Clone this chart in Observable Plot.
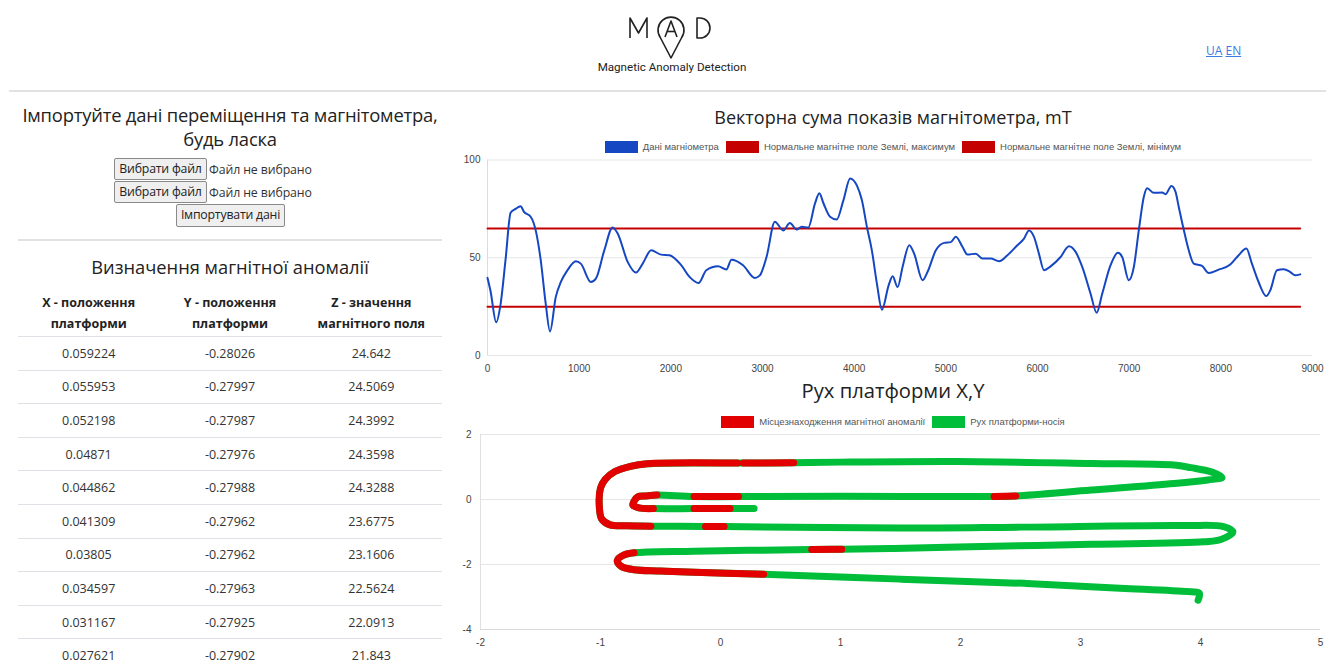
<!DOCTYPE html>
<html><head><meta charset="utf-8">
<script src="https://cdn.jsdelivr.net/npm/d3@7"></script>
<script src="https://cdn.jsdelivr.net/npm/@observablehq/plot@0.6"></script>
<style>
html,body{margin:0;padding:0;background:#fff;}
body{width:1333px;height:662px;overflow:hidden;position:relative;font-family:"Open Sans","Noto Sans",sans-serif;color:#333;}
.abs{position:absolute;}
.hr{position:absolute;height:0;border-top:2px solid #e2e2e2;}
.btn{position:absolute;box-sizing:border-box;border:1px solid #8a8a8a;background:#efefef;font-size:12.3px;letter-spacing:-0.2px;line-height:20px;text-align:center;color:#222;border-radius:2px;white-space:nowrap;}
.ftxt{position:absolute;font-size:12.3px;letter-spacing:-0.1px;color:#333;line-height:20px;white-space:nowrap;}
.h4{position:absolute;text-align:center;color:#222;}
table{border-collapse:collapse;width:424px;}
th{font-size:12.5px;font-weight:700;color:#222;line-height:21px;height:47px;padding:0;border-bottom:1px solid #dee2e6;vertical-align:middle;width:33.3%;}
td{font-size:12.5px;color:#333;height:32.6px;padding:0;text-align:center;border-bottom:1px solid #dee2e6;}
.title{position:absolute;left:460px;width:866px;text-align:center;color:#222;white-space:nowrap;}
.legend{position:absolute;left:460px;width:866px;display:flex;justify-content:center;align-items:center;font-family:Arial,"Liberation Sans",sans-serif;font-size:9.5px;color:#555;}
.legend .sw{display:inline-block;width:33px;height:12px;margin-right:5px;}
.legend .it{display:flex;align-items:center;margin:0 3.5px;}
.chart{position:absolute;}
</style></head>
<body>
<!-- header logo -->
<svg class="abs" style="left:0;top:0" width="1333" height="90">
  <g fill="none" stroke="#222" stroke-width="1.6" stroke-linejoin="round">
    <polyline points="630,38 630,18 638.5,33 647,18 647,38"/>
    <path d="M671 58 L660.3 37.5 A13 13 0 1 1 681.7 37.5 Z"/>
    <polyline points="665,37 671,21 677,37"/>
    <line x1="667.2" y1="31.5" x2="674.8" y2="31.5"/>
    <path d="M697 18 L700 18 A10 10 0 0 1 700 38 L697 38 Z"/>
  </g>
  <text x="672" y="70.5" text-anchor="middle" font-family="Roboto" font-size="11.6" fill="#222">Magnetic Anomaly Detection</text>
</svg>
<div class="abs" style="left:1206px;top:42px;font-size:12px;"><a href="#" style="color:#3d7be0;">UA</a> <a href="#" style="color:#3d7be0;">EN</a></div>
<div class="hr" style="left:9px;width:1317px;top:90px;"></div>

<!-- left column -->
<div class="h4" style="left:0px;width:460px;top:103px;font-size:18.4px;letter-spacing:-0.2px;line-height:24px;">Імпортуйте дані переміщення та магнітометра,<br>будь ласка</div>
<div class="btn" style="left:114px;top:158px;width:93px;height:22px;">Вибрати файл</div>
<div class="ftxt" style="left:209px;top:160px;">Файл не вибрано</div>
<div class="btn" style="left:114px;top:181px;width:93px;height:22px;">Вибрати файл</div>
<div class="ftxt" style="left:209px;top:183px;">Файл не вибрано</div>
<div class="btn" style="left:176px;top:204px;width:109px;height:23px;">Імпортувати дані</div>
<div class="hr" style="left:18px;width:424px;top:239px;"></div>
<div class="h4" style="left:18px;width:424px;top:254px;font-size:18.3px;line-height:26px;">Визначення магнітної аномалії</div>
<div class="abs" style="left:18px;top:289px;" id="tbl"></div>

<!-- right column -->
<div class="title" style="top:104px;line-height:26px;font-size:18px;">Векторна сума показів магнітометра, mT</div>
<div class="legend" style="top:140px;height:13px;" id="leg1"></div>
<div class="chart" style="left:460px;top:152px;" id="c1"></div>
<div class="title" style="top:376px;line-height:28px;font-size:20.2px;">Рух платформи X,Y</div>
<div class="legend" style="top:415px;height:13px;" id="leg2"></div>
<div class="chart" style="left:460px;top:427px;" id="c2"></div>

<script>
// ---------- table data ----------
const tableHeadLines = [["X - положення","платформи"],["Y - положення","платформи"],["Z - значення","магнітного поля"]];
const colX = ["0.059224","0.055953","0.052198","0.04871","0.044862","0.041309","0.03805","0.034597","0.031167","0.027621"];
const colY = ["-0.28026","-0.27997","-0.27987","-0.27976","-0.27988","-0.27962","-0.27962","-0.27963","-0.27925","-0.27902"];
const colZ = ["24.642","24.5069","24.3992","24.3598","24.3288","23.6775","23.1606","22.5624","22.0913","21.843"];

// ---------- magnetometer chart ----------
const magX = [
  0, 33, 95, 142, 197, 252, 307, 361, 398, 471,
  526, 580, 635, 682, 745, 800, 872, 964, 1018, 1128,
  1182, 1274, 1365, 1420, 1529, 1620, 1693, 1785, 1894, 1985,
  2113, 2204, 2303, 2387, 2515, 2606, 2661, 2788, 2916, 2971,
  3044, 3135, 3226, 3299, 3372, 3427, 3500, 3573, 3620, 3664,
  3737, 3810, 3883, 3956, 4029, 4084, 4139, 4193, 4248, 4303,
  4376, 4420, 4474, 4528, 4601, 4655, 4746, 4800, 4891, 4982,
  5054, 5109, 5181, 5236, 5327, 5399, 5490, 5581, 5672, 5780,
  5853, 5907, 5962, 6016, 6071, 6143, 6252, 6343, 6416, 6488,
  6579, 6645, 6706, 6797, 6877, 6924, 6996, 7051, 7105, 7160,
  7196, 7269, 7360, 7396, 7461, 7505, 7541, 7595, 7650, 7704,
  7795, 7868, 7976, 8103, 8194, 8278, 8339, 8412, 8495, 8539,
  8612, 8684, 8757, 8811, 8866
];
const magY = [
  39.7, 33, 17, 26, 49, 73, 75, 76.4, 73.5, 71,
  64, 49, 26.5, 12.3, 30, 37.6, 43.6, 48.2, 47, 37.6,
  39.3, 53.8, 65.5, 62.4, 47.9, 42.4, 47, 53.8, 51.6, 51.3,
  46.2, 40.2, 37.1, 43.6, 45.6, 44, 49, 46.2, 39.7, 41,
  50.4, 68.4, 64, 67.8, 64.4, 65.8, 65.5, 77.8, 83, 78,
  71, 69.6, 79.5, 90.6, 87, 79.5, 65.8, 53.8, 36.8, 23.4,
  35.9, 40.5, 35, 45.3, 56.4, 52, 38.5, 42.7, 53.8, 57.6,
  58, 60.7, 55.6, 51.6, 52.1, 49.6, 49.6, 48.2, 51.3, 56.4,
  59.8, 64, 60.7, 52, 43.6, 45.6, 50.4, 55.9, 53, 45.3,
  31.6, 21.9, 31.6, 46.2, 52.5, 50.4, 38.5, 45.3, 64, 81.2,
  85.5, 83.2, 83.4, 82.5, 86.7, 83.8, 76, 64.4, 53.8, 47,
  45.8, 42.2, 43.9, 46.5, 51.3, 54.7, 47, 37.6, 30.4, 33.3,
  43.6, 44.1, 42.7, 41, 41.5
];
const normMax = 65;
const normMin = 25;
const magXTicks = [0,1000,2000,3000,4000,5000,6000,7000,8000,9000];
const magYTicks = [0,50,100];
const magLegend = ["Дані магніометра", "Нормальне магнітне поле Землі, максимум", "Нормальне магнітне поле Землі, мінімум"];
const magColors = ["#1547c2", "#c40000", "#c40000"];

// ---------- platform XY chart ----------
const pathX = [0.28,0.08,-0.22,-0.56,-0.68,-0.73,-0.72,-0.69,-0.62,-0.53,
  -0.22,0.15,1.0,2.28,2.46,3.09,3.78,4.06,4.18,4.09,
  3.92,3.78,3.09,1.98,1.0,0.61,0.19,0.14,-0.61,-0.75,
  -0.88,-0.96,-1.0,-1.01,-0.99,-0.92,-0.78,-0.58,-0.125,0.03,
  1.5,2.5,3.87,4.2,4.27,4.17,4.03,3.09,1.98,1.42,
  1.01,0.76,-0.22,-0.72,-0.8,-0.86,-0.83,-0.72,-0.5,-0.22,
  0.36,1.5,2.53,3.37,3.92,3.99,3.98];
const pathY = [-0.28,-0.28,-0.28,-0.28,-0.26,-0.17,-0.05,0.08,0.11,0.14,
  0.09,0.09,0.1,0.09,0.11,0.29,0.49,0.6,0.68,0.85,
  0.98,1.06,1.11,1.17,1.15,1.13,1.12,1.12,1.1,1.02,
  0.86,0.62,0.35,-0.2,-0.6,-0.78,-0.81,-0.82,-0.83,-0.83,
  -0.88,-0.85,-0.8,-0.84,-1.0,-1.23,-1.3,-1.38,-1.46,-1.51,
  -1.53,-1.54,-1.59,-1.64,-1.7,-1.87,-2.05,-2.16,-2.2,-2.24,
  -2.3,-2.45,-2.58,-2.74,-2.84,-2.88,-3.1];
// 1 = the stretch from this point to the next one is a magnetic anomaly
const anomaly = [0,1,0,1,1,1,1,1,1,0,
  1,0,0,1,0,0,0,0,0,0,
  0,0,0,0,0,1,0,1,1,1,
  1,1,1,1,1,1,1,0,1,0,
  0,0,0,0,0,0,0,0,0,0,
  1,0,0,1,1,1,1,1,1,1,
  0,0,0,0,0,0,0];
const xyXTicks = [-2,-1,0,1,2,3,4,5];
const xyYTicks = [-4,-2,0,2];
const xyLegend = ["Місцезнаходження магнітної аномалії", "Рух платформи-носія"];
const xyColors = ["#e30000", "#00bd3a"];

// ---------- build table ----------
{
  const t = document.createElement("table");
  const hr = document.createElement("tr");
  tableHeadLines.forEach(l => { const th = document.createElement("th"); th.innerHTML = l.join("<br>"); hr.appendChild(th); });
  t.appendChild(hr);
  colX.forEach((v,i) => {
    const tr = document.createElement("tr");
    [v, colY[i], colZ[i]].forEach(s => { const td = document.createElement("td"); td.textContent = s; tr.appendChild(td); });
    t.appendChild(tr);
  });
  document.getElementById("tbl").appendChild(t);
}

// ---------- legends ----------
function legend(id, labels, colors) {
  const el = document.getElementById(id);
  labels.forEach((l,i) => {
    const it = document.createElement("div"); it.className = "it";
    const sw = document.createElement("span"); sw.className = "sw"; sw.style.background = colors[i];
    const tx = document.createElement("span"); tx.textContent = l;
    it.appendChild(sw); it.appendChild(tx); el.appendChild(it);
  });
}
legend("leg1", magLegend, magColors);
legend("leg2", xyLegend, xyColors);

const axisStyle = {fontFamily: "Arial, 'Liberation Sans', sans-serif", fontSize: "10px", color: "#444", background: "transparent", overflow: "visible"};
const intFmt = d => String(d);

// ---------- chart 1 ----------
const mag = magX.map((x,i) => ({x, y: magY[i]}));
const xFirst = magX[0], xLast = magX[magX.length-1];
const limits = [
  {x: xFirst, y: normMax, s: "max"}, {x: xLast, y: normMax, s: "max"},
  {x: xFirst, y: normMin, s: "min"}, {x: xLast, y: normMin, s: "min"}
];
const c1 = Plot.plot({
  width: 870, height: 228,
  marginLeft: 27, marginRight: 18, marginTop: 7.5, marginBottom: 25,
  style: axisStyle,
  x: {domain: [0, 9000], label: null},
  y: {domain: [0, 100], label: null},
  marks: [
    Plot.ruleY(magYTicks, {stroke: "#e6e6e6", strokeWidth: 1}),
    Plot.ruleX([0], {stroke: "#dcdcdc"}),
    Plot.axisX({ticks: magXTicks, tickSize: 0, tickPadding: 9, tickFormat: intFmt, label: null}),
    Plot.axisY({ticks: magYTicks, tickSize: 0, tickPadding: 7, tickFormat: intFmt, label: null}),
    Plot.line(limits, {x: "x", y: "y", z: "s", stroke: magColors[1], strokeWidth: 2}),
    Plot.line(mag, {x: "x", y: "y", stroke: magColors[0], strokeWidth: 2, curve: "monotone-x"})
  ]
});
document.getElementById("c1").appendChild(c1);

// ---------- chart 2 ----------
const path = pathX.map((x,i) => ({x, y: pathY[i]}));
const runs = [];
let run = 0;
for (let i = 0; i < path.length - 1; i++) {
  if (anomaly[i]) {
    if (i === 0 || !anomaly[i-1]) { run++; runs.push({...path[i], run}); }
    runs.push({...path[i+1], run});
  }
}
const c2 = Plot.plot({
  width: 870, height: 235,
  marginLeft: 20, marginRight: 10, marginTop: 7, marginBottom: 33,
  style: axisStyle,
  x: {domain: [-2, 5], label: null},
  y: {domain: [-4, 2], label: null},
  marks: [
    Plot.ruleY(xyYTicks, {stroke: "#e6e6e6", strokeWidth: 1}),
    Plot.ruleY([-4], {stroke: "#dadada"}),
    Plot.ruleX([-2], {stroke: "#e0e0e0"}),
    Plot.axisX({ticks: xyXTicks, tickSize: 0, tickPadding: 9, tickFormat: intFmt, label: null}),
    Plot.axisY({ticks: xyYTicks, tickSize: 0, tickPadding: 9, tickFormat: intFmt, label: null}),
    Plot.line(path, {x: "x", y: "y", stroke: xyColors[1], strokeWidth: 7, strokeLinecap: "round", strokeLinejoin: "round", curve: "catmull-rom"}),
    Plot.line(runs, {x: "x", y: "y", z: "run", stroke: xyColors[0], strokeWidth: 7, strokeLinecap: "round", strokeLinejoin: "round", curve: "catmull-rom"})
  ]
});
document.getElementById("c2").appendChild(c2);
</script>
</body></html>
